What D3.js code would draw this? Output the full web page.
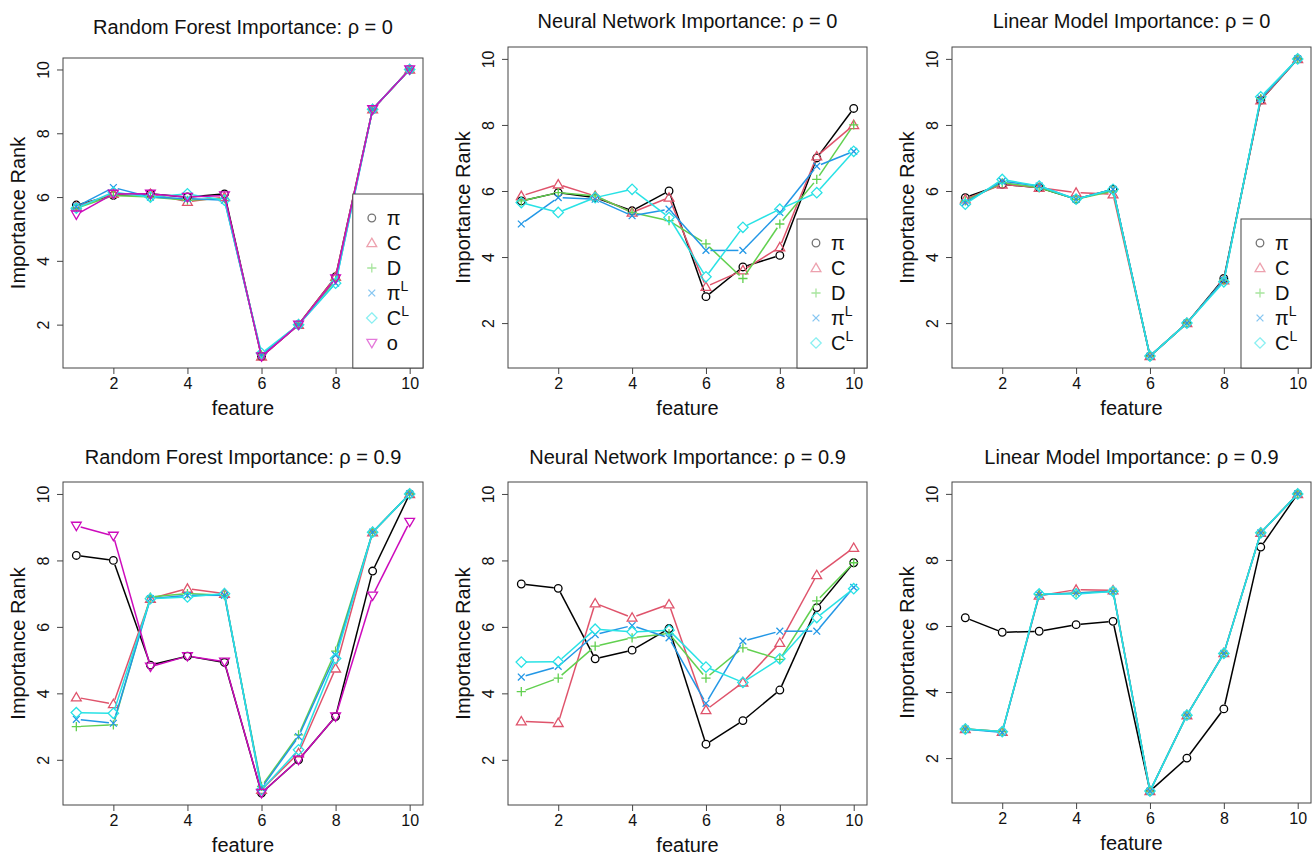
<!DOCTYPE html>
<html>
<head>
<meta charset="utf-8">
<title>Importance Rank</title>
<script src="https://d3js.org/d3.v7.min.js"></script>
<style>
  body { margin: 0; background: #fff; }
  text { font-family: "Liberation Sans", Arial, Helvetica, sans-serif; fill: #111; }
</style>
</head>
<body>
<script>
// data: one array per series, in the order pi, C, D, pi^L, C^L, o
var features = [1, 2, 3, 4, 5, 6, 7, 8, 9, 10];
var axisTicks = [2, 4, 6, 8, 10];

var rfRho0 = [
  [5.75, 6.05, 6.1, 6.0, 6.1, 1.0, 2.0, 3.5, 8.75, 10],
  [5.7, 6.1, 6.1, 5.85, 6.0, 1.0, 2.0, 3.5, 8.75, 10],
  [5.65, 6.05, 6.0, 5.9, 5.95, 1.05, 2.0, 3.4, 8.75, 10],
  [5.7, 6.3, 6.0, 5.95, 5.9, 1.05, 2.0, 3.3, 8.75, 10],
  [5.65, 6.15, 6.0, 6.1, 5.9, 1.1, 2.0, 3.3, 8.75, 10],
  [5.45, 6.1, 6.1, 6.0, 6.05, 1.0, 2.0, 3.45, 8.75, 10]
];
var nnRho0 = [
  [5.7, 5.95, 5.8, 5.4, 6.0, 2.8, 3.7, 4.05, 7.0, 8.5],
  [5.85, 6.2, 5.85, 5.35, 5.8, 3.1, 3.6, 4.3, 7.05, 8.0],
  [5.7, 5.95, 5.85, 5.35, 5.1, 4.4, 3.35, 5.0, 6.35, 8.0],
  [5.0, 5.8, 5.75, 5.25, 5.45, 4.2, 4.2, 5.35, 6.75, 7.2],
  [5.65, 5.35, 5.8, 6.05, 5.2, 3.4, 4.9, 5.45, 5.95, 7.2]
];
var lmRho0 = [
  [5.8, 6.2, 6.1, 5.75, 6.05, 1.0, 2.0, 3.35, 8.75, 10],
  [5.75, 6.2, 6.1, 5.95, 5.9, 1.0, 2.0, 3.3, 8.75, 10],
  [5.7, 6.25, 6.1, 5.75, 6.0, 1.0, 2.0, 3.3, 8.8, 10],
  [5.65, 6.3, 6.15, 5.75, 6.05, 1.0, 2.0, 3.3, 8.8, 10],
  [5.6, 6.35, 6.15, 5.75, 6.05, 1.0, 2.0, 3.25, 8.85, 10]
];
var rfRho9 = [
  [8.15, 8.0, 4.85, 5.12, 4.93, 1.0, 2.0, 3.3, 7.68, 10],
  [3.88, 3.68, 6.85, 7.15, 7.0, 1.1, 2.2, 4.75, 8.85, 10],
  [3.0, 3.05, 6.9, 7.0, 6.95, 1.2, 2.75, 5.27, 8.85, 10],
  [3.22, 3.1, 6.85, 6.95, 6.95, 1.15, 2.7, 5.15, 8.85, 10],
  [3.42, 3.4, 6.85, 6.9, 7.0, 1.1, 2.3, 5.05, 8.85, 10],
  [9.04, 8.74, 4.8, 5.12, 4.95, 1.0, 2.0, 3.3, 6.94, 9.16]
];
var nnRho9 = [
  [7.29, 7.16, 5.04, 5.3, 5.95, 2.47, 3.18, 4.1, 6.58, 7.93],
  [3.16, 3.11, 6.71, 6.28, 6.68, 3.5, 4.33, 5.52, 7.56, 8.38],
  [4.05, 4.46, 5.42, 5.67, 5.8, 4.46, 5.37, 5.02, 6.78, 7.93],
  [4.49, 4.81, 5.77, 6.04, 5.67, 3.7, 5.57, 5.87, 5.87, 7.19],
  [4.94, 4.95, 5.93, 5.85, 5.9, 4.79, 4.33, 5.04, 6.28, 7.15]
];
var lmRho9 = [
  [6.25, 5.81, 5.84, 6.04, 6.14, 1.0, 2.0, 3.49, 8.39, 10],
  [2.88, 2.8, 6.92, 7.1, 7.08, 1.0, 3.3, 5.18, 8.82, 10],
  [2.88, 2.8, 6.95, 7.0, 7.05, 1.0, 3.3, 5.17, 8.82, 10],
  [2.88, 2.78, 6.95, 7.0, 7.05, 1.0, 3.3, 5.17, 8.82, 10],
  [2.88, 2.8, 6.97, 6.97, 7.05, 1.0, 3.3, 5.17, 8.82, 10]
];

var legendLabels = [["π", ""], ["C", ""], ["D", ""], ["π", "L"], ["C", "L"], ["o", ""]];
var colors = ["#000000", "#DF536B", "#61D04F", "#2297E6", "#28E2E5", "#CD0BBC"];

// R pch 1..6
var symbols = [
  "M-3.8,0a3.8,3.8 0 1,0 7.6,0a3.8,3.8 0 1,0 -7.6,0",
  "M0,-4.8L4.9,3.6L-4.9,3.6Z",
  "M-4.6,0H4.6M0,-4.6V4.6",
  "M-3.4,-3.4L3.4,3.4M-3.4,3.4L3.4,-3.4",
  "M0,-5.2L5.2,0L0,5.2L-5.2,0Z",
  "M0,4.8L4.9,-3.6L-4.9,-3.6Z"
];

var panels = [
  { title: "Random Forest Importance: ", rho: "0", data: rfRho0, box: [63, 58, 423, 368], titleY: 34, legendTop: 194 },
  { title: "Neural Network Importance: ", rho: "0", data: nnRho0, box: [508, 47, 867, 368], titleY: 28, legendTop: 219 },
  { title: "Linear Model Importance: ", rho: "0", data: lmRho0, box: [952, 47, 1311, 368], titleY: 28, legendTop: 219 },
  { title: "Random Forest Importance: ", rho: "0.9", data: rfRho9, box: [63, 482, 423, 805], titleY: 464 },
  { title: "Neural Network Importance: ", rho: "0.9", data: nnRho9, box: [508, 482, 867, 805], titleY: 464 },
  { title: "Linear Model Importance: ", rho: "0.9", data: lmRho9, box: [952, 482, 1311, 803], titleY: 464 }
];

var gap = 4.5; // type="b": lines stop short of the points

var svg = d3.select("body").append("svg").attr("width", 1313).attr("height", 856);

panels.forEach(function(p) {
  var left = p.box[0], top = p.box[1], right = p.box[2], bottom = p.box[3];
  var xScale = d3.scaleLinear().domain([0.64, 10.36]).range([left, right]);
  var yScale = d3.scaleLinear().domain([0.64, 10.36]).range([bottom, top]);
  var g = svg.append("g");

  // title
  var t = g.append("text")
    .attr("x", (left + right) / 2)
    .attr("y", p.titleY)
    .attr("text-anchor", "middle")
    .attr("font-size", "20px");
  t.append("tspan").text(p.title);
  t.append("tspan").text("ρ = " + p.rho);

  // axes
  var ax = g.append("g")
    .attr("transform", "translate(0," + bottom + ")")
    .call(d3.axisBottom(xScale).tickValues(axisTicks).tickSize(6).tickSizeOuter(0));
  ax.select(".domain").remove();
  ax.selectAll("line").attr("stroke", "#444");
  ax.selectAll("text").attr("font-size", "16px").attr("y", 10).attr("fill", "#222")
    .style("font-family", "'Liberation Sans', Arial, sans-serif");

  var ay = g.append("g")
    .attr("transform", "translate(" + left + ",0)")
    .call(d3.axisLeft(yScale).tickValues(axisTicks).tickSize(6).tickSizeOuter(0));
  ay.select(".domain").remove();
  ay.selectAll("line").attr("stroke", "#444");
  ay.selectAll("text")
    .attr("font-size", "16px")
    .attr("fill", "#222")
    .attr("x", 0).attr("y", -14).attr("dy", 0)
    .attr("text-anchor", "middle")
    .attr("transform", "rotate(-90)")
    .style("font-family", "'Liberation Sans', Arial, sans-serif");

  // axis titles
  g.append("text")
    .attr("x", (left + right) / 2)
    .attr("y", bottom + 47)
    .attr("text-anchor", "middle")
    .attr("font-size", "20px")
    .text("feature");
  g.append("text")
    .attr("transform", "translate(" + (left - 38) + "," + ((top + bottom) / 2) + ") rotate(-90)")
    .attr("text-anchor", "middle")
    .attr("font-size", "20px")
    .text("Importance Rank");

  // lines (with gaps at the points) and points
  p.data.forEach(function(values, k) {
    var pairs = d3.pairs(values.map(function(d, i) { return [xScale(features[i]), yScale(d)]; }));
    g.selectAll(".seg" + k)
      .data(pairs.filter(function(s) { return Math.hypot(s[1][0] - s[0][0], s[1][1] - s[0][1]) > 2 * gap; }))
      .enter()
      .append("line")
      .attr("class", "seg" + k)
      .each(function(s) {
        var dx = s[1][0] - s[0][0], dy = s[1][1] - s[0][1];
        var len = Math.hypot(dx, dy);
        var ux = dx / len * gap, uy = dy / len * gap;
        d3.select(this)
          .attr("x1", s[0][0] + ux).attr("y1", s[0][1] + uy)
          .attr("x2", s[1][0] - ux).attr("y2", s[1][1] - uy);
      })
      .attr("stroke", colors[k])
      .attr("stroke-width", 1.5);
    g.selectAll(".pt" + k)
      .data(values)
      .enter()
      .append("path")
      .attr("class", "pt" + k)
      .attr("transform", function(d, i) { return "translate(" + xScale(features[i]) + "," + yScale(d) + ")"; })
      .attr("d", symbols[k])
      .attr("fill", "none")
      .attr("stroke", colors[k])
      .attr("stroke-width", 1.3);
  });

  // plot box
  g.append("rect")
    .attr("x", left).attr("y", top)
    .attr("width", right - left).attr("height", bottom - top)
    .attr("fill", "none")
    .attr("stroke", "#444")
    .attr("stroke-width", 1);

  // legend
  if (p.legendTop !== undefined) {
    var lx = left + (right - left) * 0.805;
    var lg = g.append("g");
    lg.append("rect")
      .attr("x", lx).attr("y", p.legendTop)
      .attr("width", right - lx).attr("height", bottom - p.legendTop)
      .attr("fill", "#fff")
      .attr("stroke", "#444");
    p.data.forEach(function(values, k) {
      var yy = p.legendTop + 24 + k * 25;
      lg.append("path")
        .attr("transform", "translate(" + (lx + 19) + "," + yy + ")")
        .attr("d", symbols[k])
        .attr("fill", "none")
        .attr("stroke", colors[k])
        .attr("stroke-opacity", 0.55)
        .attr("stroke-width", 1.3);
      var lt = lg.append("text")
        .attr("x", lx + 34)
        .attr("y", yy + 7)
        .attr("font-size", "20px");
      lt.append("tspan").text(legendLabels[k][0]);
      if (legendLabels[k][1]) {
        lt.append("tspan").attr("dy", -9).attr("font-size", "14px").text(legendLabels[k][1]);
      }
    });
  }
});
</script>
</body>
</html>
